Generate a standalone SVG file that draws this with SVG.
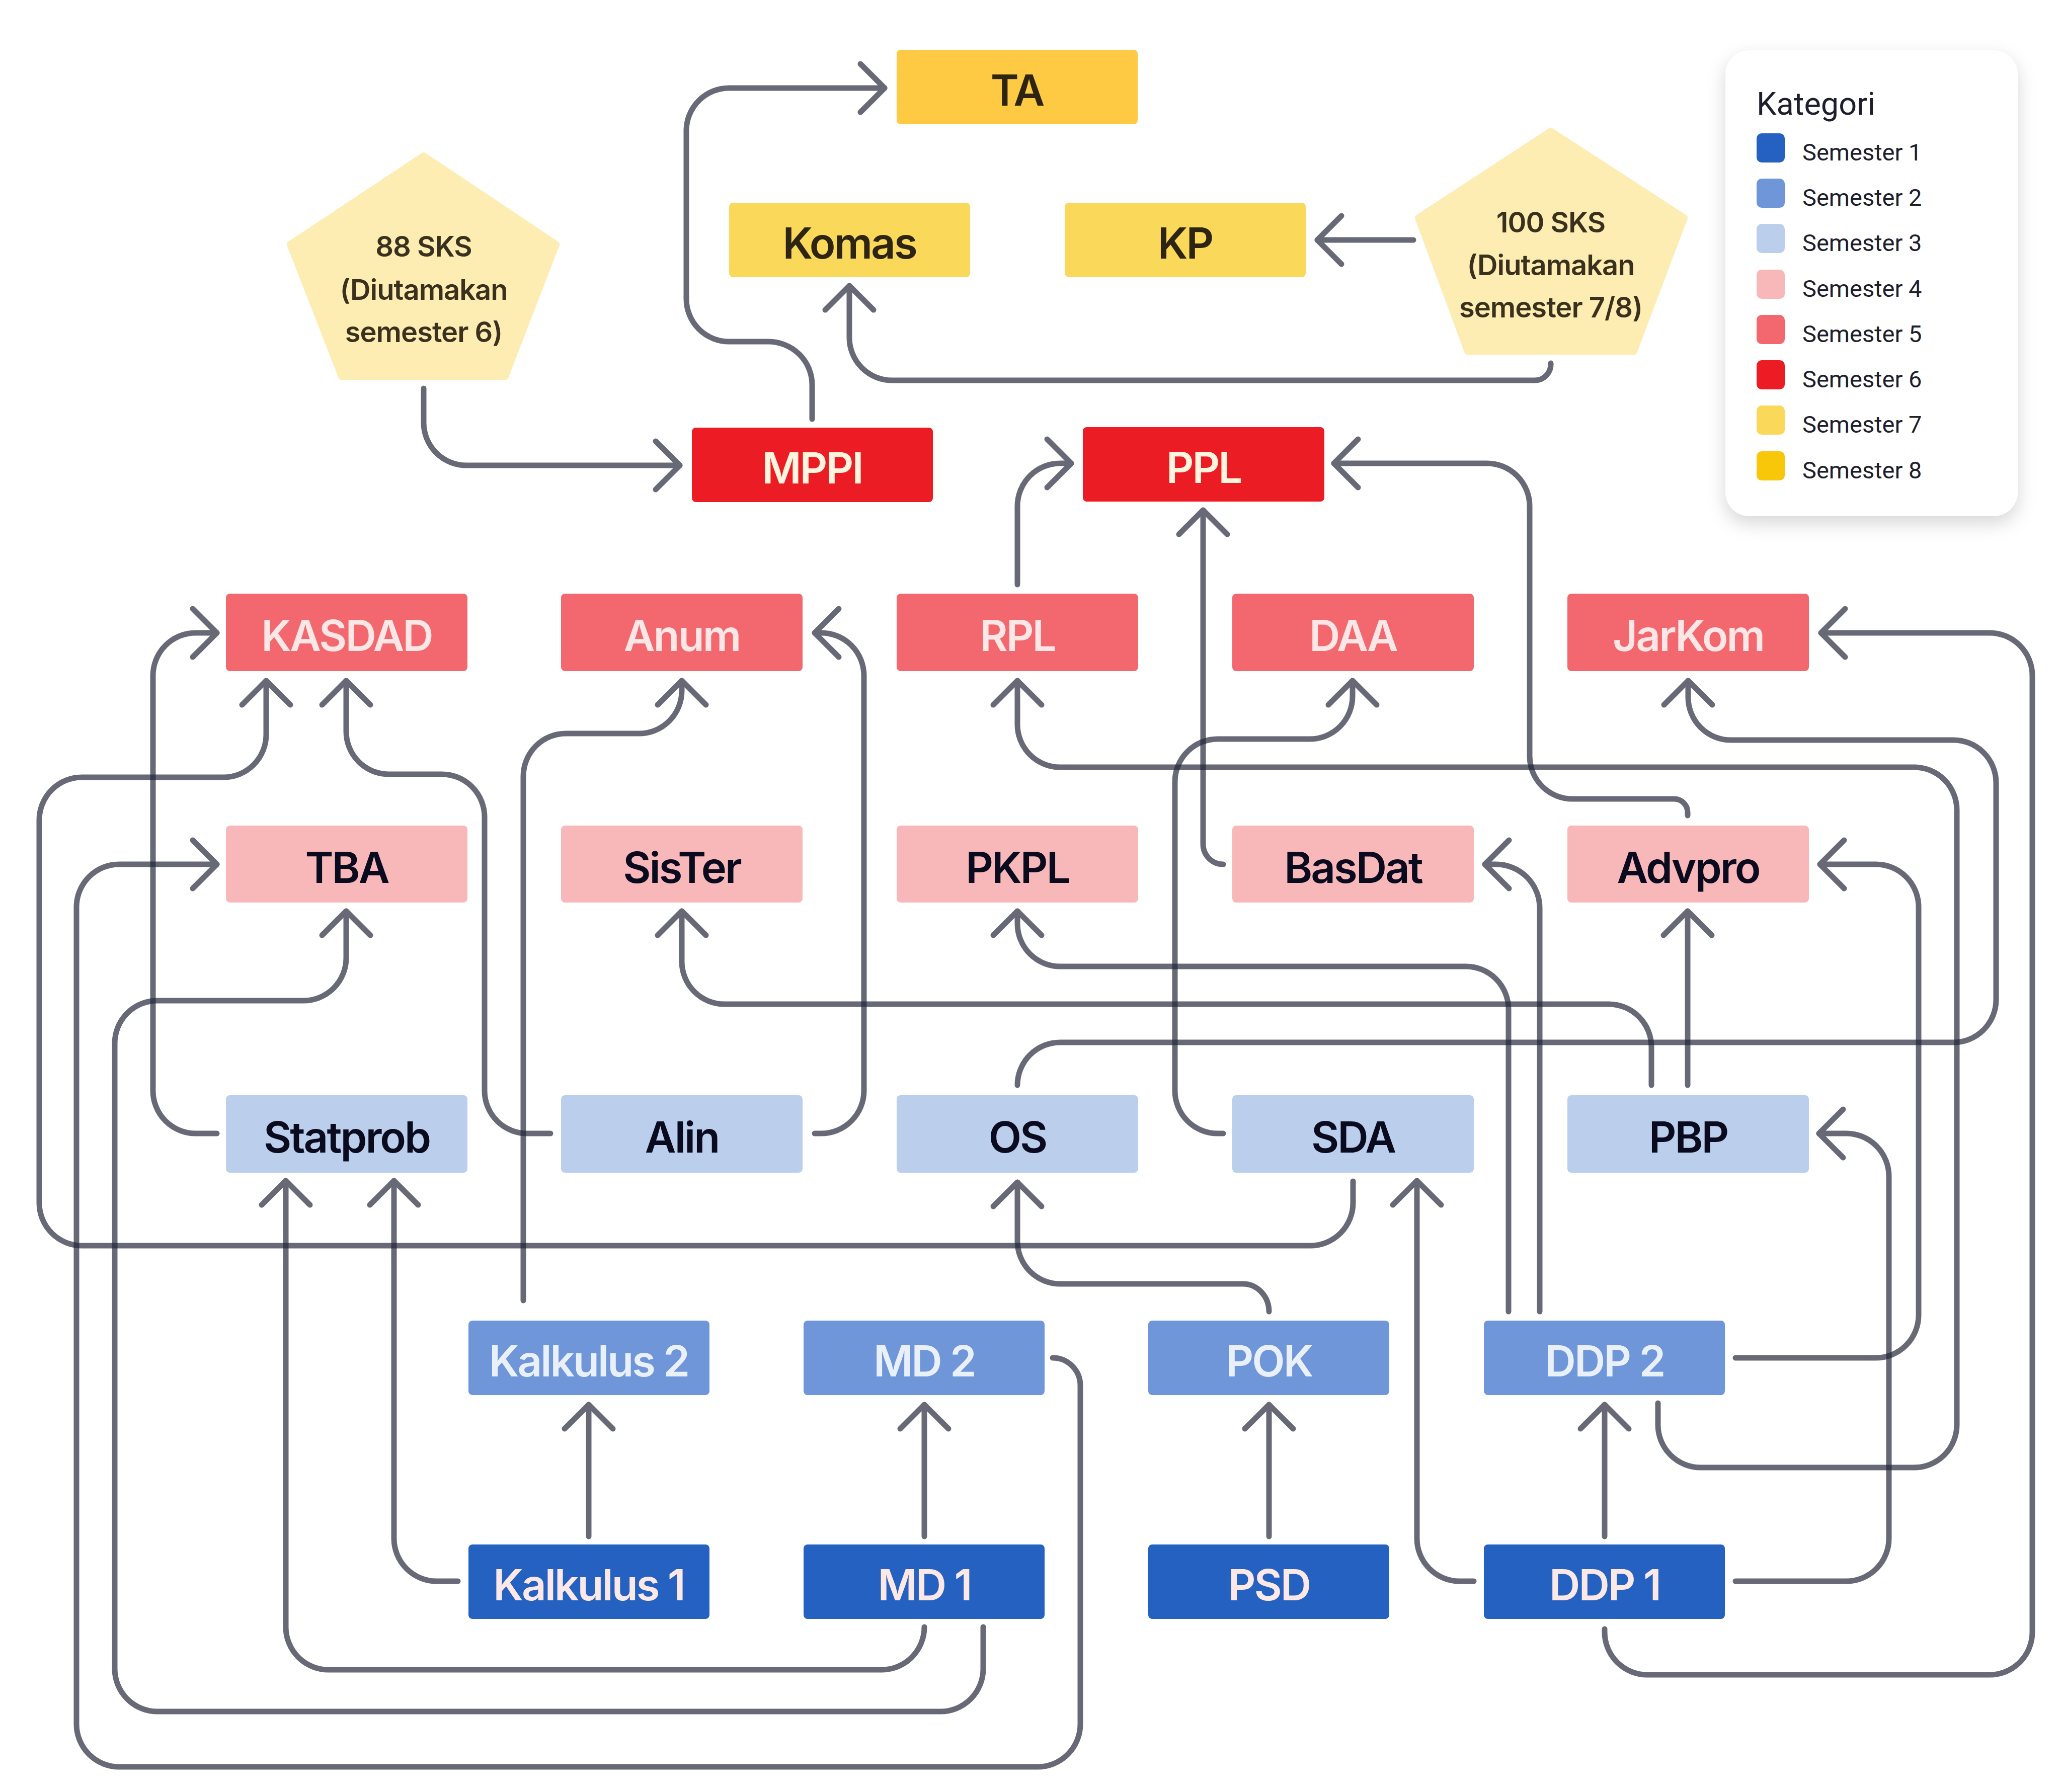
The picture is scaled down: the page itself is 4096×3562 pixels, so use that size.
<svg xmlns="http://www.w3.org/2000/svg" width="4096" height="3562" viewBox="0 0 4096 3562">
<defs>
<style>
.box{stroke:none}
.s1{fill:#2461C1}.s2{fill:#6E96D8}.s3{fill:#BBCEEC}.s4{fill:#F8B8BA}.s5{fill:#F2686E}.s6{fill:#EC1C24}.s7{fill:#FAD85A}.s8{fill:#FEC943}
.lbl{font-family:Inter,Roboto,"Liberation Sans",sans-serif;font-size:85px;font-weight:600;letter-spacing:-3px;text-anchor:middle}
.t1{fill:#FDE8E8}.t2{fill:#EAF0FA}.td{fill:#0B0B1F}.t5{fill:#FDE6E6}.t6{fill:#FFF5DF}.t7{fill:#2D2412}
.pent{fill:#FDEDB3;stroke:#FDEDB3;stroke-width:14;stroke-linejoin:round}
.ptxt{font-family:Inter,"Open Sans","Liberation Sans",sans-serif;font-size:56px;font-weight:600;letter-spacing:-1px;fill:#3A301E;text-anchor:middle}
.cn{fill:none;stroke:#202436;stroke-width:11;stroke-linecap:round;stroke-linejoin:round;opacity:0.68;marker-end:url(#ah)}
.legt{font-family:Roboto,Inter,"Liberation Sans",sans-serif;font-size:47px;font-weight:400;fill:#1E1E2C}
.legh{font-family:Roboto,Inter,"Liberation Sans",sans-serif;font-size:63px;font-weight:400;fill:#1E1E2C}
</style>
<marker id="ah" markerUnits="userSpaceOnUse" markerWidth="140" markerHeight="140" viewBox="-70 -70 140 140" refX="0" refY="0" orient="auto" overflow="visible">
<path d="M-48,-48 L0,0 L-48,48" fill="none" stroke="#202436" stroke-width="11" stroke-linecap="round" stroke-linejoin="round"/>
</marker>
<filter id="shadow" x="-20%" y="-20%" width="140%" height="140%">
<feDropShadow dx="0" dy="14" stdDeviation="18" flood-color="#000" flood-opacity="0.16"/>
</filter>
</defs>
<rect width="4096" height="3562" fill="#FFFFFF"/>

<g id="connectors">
<path class="cn" d="M842 772 V840 A85 85 0 0 0 927 925 H1351"/>
<path class="cn" d="M1614 833 V765 A87 86 0 0 0 1527 679 H1449 A85 85 0 0 1 1364 594 V260 A85 85 0 0 1 1449 175 H1758"/>
<path class="cn" d="M2809 477 H2618"/>
<path class="cn" d="M3082 722 A32 32 0 0 1 3050 756 H1773 A85 85 0 0 1 1688 671 V568"/>
<path class="cn" d="M2022 1162 V1006 A85 85 0 0 1 2107 921 H2129"/>
<path class="cn" d="M2431 1718 A40 40 0 0 1 2391 1678 V1014"/>
<path class="cn" d="M3354 1621 V1615 A27 27 0 0 0 3327 1588 H3125 A85 85 0 0 1 3040 1503 V1006 A85 85 0 0 0 2955 921 H2651"/>
<path class="cn" d="M431 2253 H389 A85 85 0 0 1 304 2168 V1343 A85 85 0 0 1 389 1258 H431"/>
<path class="cn" d="M1094 2253 H1048 A85 85 0 0 1 963 2168 V1624 A85 85 0 0 0 878 1539 H773 A85 85 0 0 1 688 1454 V1353"/>
<path class="cn" d="M2689 2348 V2391 A85 85 0 0 1 2604 2476 H163 A85 85 0 0 1 78 2391 V1630 A85 85 0 0 1 163 1545 H444 A85 85 0 0 0 529 1460 V1353"/>
<path class="cn" d="M2092 2699 A55 55 0 0 1 2147 2754 V3427 A85 85 0 0 1 2062 3512 H237 A85 85 0 0 1 152 3427 V1803 A85 85 0 0 1 237 1718 H431"/>
<path class="cn" d="M1954 3234 V3317 A85 85 0 0 1 1869 3402 H313 A85 85 0 0 1 228 3317 V2074 A85 85 0 0 1 313 1989 H603 A85 85 0 0 0 688 1904 V1811"/>
<path class="cn" d="M1837 3234 A85 85 0 0 1 1752 3319 H653 A85 85 0 0 1 568 3234 V2347"/>
<path class="cn" d="M910 3143 H868 A85 85 0 0 1 783 3058 V2347"/>
<path class="cn" d="M1040 2585 V1543 A85 85 0 0 1 1125 1458 H1270 A85 85 0 0 0 1355 1373 V1353"/>
<path class="cn" d="M1619 2253 H1632 A85 85 0 0 0 1717 2168 V1343 A85 85 0 0 0 1632 1258 H1619"/>
<path class="cn" d="M1170 3054 V2792"/>
<path class="cn" d="M1837 3054 V2792"/>
<path class="cn" d="M2522 3054 V2792"/>
<path class="cn" d="M3189 3054 V2792"/>
<path class="cn" d="M2522 2607 A52 55 0 0 0 2470 2552 H2107 A85 85 0 0 1 2022 2467 V2350"/>
<path class="cn" d="M2022 2157 A85 85 0 0 1 2107 2072 H3882 A85 85 0 0 0 3967 1987 V1556 A85 85 0 0 0 3882 1471 H3440 A85 85 0 0 1 3355 1386 V1353"/>
<path class="cn" d="M3295 2789 V2832 A85 85 0 0 0 3380 2917 H3804 A85 85 0 0 0 3889 2832 V1610 A85 85 0 0 0 3804 1525 H2107 A85 85 0 0 1 2022 1440 V1353"/>
<path class="cn" d="M3189 3238 V3244 A85 85 0 0 0 3274 3329 H3954 A85 85 0 0 0 4039 3244 V1343 A85 85 0 0 0 3954 1258 H3619"/>
<path class="cn" d="M2998 2607 V2006 A85 85 0 0 0 2913 1921 H2107 A85 85 0 0 1 2022 1836 V1811"/>
<path class="cn" d="M3060 2607 V1805 A87 87 0 0 0 2973 1718 H2951"/>
<path class="cn" d="M3282 2157 V2081 A85 85 0 0 0 3197 1996 H1440 A85 85 0 0 1 1355 1911 V1811"/>
<path class="cn" d="M3354 2157 V1811"/>
<path class="cn" d="M3449 2699 H3728 A85 85 0 0 0 3813 2614 V1803 A85 85 0 0 0 3728 1718 H3617"/>
<path class="cn" d="M3449 3143 H3669 A85 85 0 0 0 3754 3058 V2338 A85 85 0 0 0 3669 2253 H3615"/>
<path class="cn" d="M2929 3143 H2901 A85 85 0 0 1 2816 3058 V2347"/>
<path class="cn" d="M2431 2253 H2420 A85 85 0 0 1 2335 2168 V1554 A85 85 0 0 1 2420 1469 H2603 A85 85 0 0 0 2688 1384 V1353"/>
</g>

<g id="p88">
<polygon class="pent" points="842,310 1105,486 1004,748 679,748 577,486"/>
<text class="ptxt" x="842" y="510">88 SKS</text>
<text class="ptxt" x="842" y="596">(Diutamakan</text>
<text class="ptxt" x="842" y="680">semester 6)</text>
</g>
<g id="p100">
<polygon class="pent" points="3082,261 3347,433 3247,698 2917,698 2819,433"/>
<text class="ptxt" x="3082" y="462">100 SKS</text>
<text class="ptxt" x="3082" y="547">(Diutamakan</text>
<text class="ptxt" x="3082" y="631">semester 7/8)</text>
</g>

<g id="n-TA"><rect class="box s8" x="1782" y="99" width="479" height="148" rx="8"/><text class="lbl t7" x="2021" y="210">TA</text></g>
<g id="n-Komas"><rect class="box s7" x="1449" y="403" width="479" height="148" rx="8"/><text class="lbl t7" x="1688" y="514">Komas</text></g>
<g id="n-KP"><rect class="box s7" x="2116" y="403" width="479" height="148" rx="8"/><text class="lbl t7" x="2355" y="514">KP</text></g>
<g id="n-MPPI"><rect class="box s6" x="1375" y="850" width="479" height="148" rx="8"/><text class="lbl t6" x="1614" y="961">MPPI</text></g>
<g id="n-PPL"><rect class="box s6" x="2152" y="849" width="480" height="148" rx="8"/><text class="lbl t6" x="2392" y="960">PPL</text></g>

<g id="n-KASDAD"><rect class="box s5" x="449" y="1180" width="480" height="154" rx="8"/><text class="lbl t5" x="689" y="1294">KASDAD</text></g>
<g id="n-Anum"><rect class="box s5" x="1115" y="1180" width="480" height="154" rx="8"/><text class="lbl t5" x="1355" y="1294">Anum</text></g>
<g id="n-RPL"><rect class="box s5" x="1782" y="1180" width="480" height="154" rx="8"/><text class="lbl t5" x="2022" y="1294">RPL</text></g>
<g id="n-DAA"><rect class="box s5" x="2449" y="1180" width="480" height="154" rx="8"/><text class="lbl t5" x="2689" y="1294">DAA</text></g>
<g id="n-JarKom"><rect class="box s5" x="3115" y="1180" width="480" height="154" rx="8"/><text class="lbl t5" x="3355" y="1294">JarKom</text></g>

<g id="n-TBA"><rect class="box s4" x="449" y="1641" width="480" height="153" rx="8"/><text class="lbl td" x="689" y="1755">TBA</text></g>
<g id="n-SisTer"><rect class="box s4" x="1115" y="1641" width="480" height="153" rx="8"/><text class="lbl td" x="1355" y="1755">SisTer</text></g>
<g id="n-PKPL"><rect class="box s4" x="1782" y="1641" width="480" height="153" rx="8"/><text class="lbl td" x="2022" y="1755">PKPL</text></g>
<g id="n-BasDat"><rect class="box s4" x="2449" y="1641" width="480" height="153" rx="8"/><text class="lbl td" x="2689" y="1755">BasDat</text></g>
<g id="n-Advpro"><rect class="box s4" x="3115" y="1641" width="480" height="153" rx="8"/><text class="lbl td" x="3355" y="1755">Advpro</text></g>

<g id="n-Statprob"><rect class="box s3" x="449" y="2177" width="480" height="154" rx="8"/><text class="lbl td" x="689" y="2291">Statprob</text></g>
<g id="n-Alin"><rect class="box s3" x="1115" y="2177" width="480" height="154" rx="8"/><text class="lbl td" x="1355" y="2291">Alin</text></g>
<g id="n-OS"><rect class="box s3" x="1782" y="2177" width="480" height="154" rx="8"/><text class="lbl td" x="2022" y="2291">OS</text></g>
<g id="n-SDA"><rect class="box s3" x="2449" y="2177" width="480" height="154" rx="8"/><text class="lbl td" x="2689" y="2291">SDA</text></g>
<g id="n-PBP"><rect class="box s3" x="3115" y="2177" width="480" height="154" rx="8"/><text class="lbl td" x="3355" y="2291">PBP</text></g>

<g id="n-Kalkulus2"><rect class="box s2" x="931" y="2625" width="479" height="148" rx="8"/><text class="lbl t2" x="1170" y="2736">Kalkulus 2</text></g>
<g id="n-MD2"><rect class="box s2" x="1597" y="2625" width="479" height="148" rx="8"/><text class="lbl t2" x="1837" y="2736">MD 2</text></g>
<g id="n-POK"><rect class="box s2" x="2282" y="2625" width="479" height="148" rx="8"/><text class="lbl t2" x="2522" y="2736">POK</text></g>
<g id="n-DDP2"><rect class="box s2" x="2949" y="2625" width="479" height="148" rx="8"/><text class="lbl t2" x="3189" y="2736">DDP 2</text></g>

<g id="n-Kalkulus1"><rect class="box s1" x="931" y="3070" width="479" height="148" rx="8"/><text class="lbl t1" x="1170" y="3181">Kalkulus 1</text></g>
<g id="n-MD1"><rect class="box s1" x="1597" y="3070" width="479" height="148" rx="8"/><text class="lbl t1" x="1837" y="3181">MD 1</text></g>
<g id="n-PSD"><rect class="box s1" x="2282" y="3070" width="479" height="148" rx="8"/><text class="lbl t1" x="2522" y="3181">PSD</text></g>
<g id="n-DDP1"><rect class="box s1" x="2949" y="3070" width="479" height="148" rx="8"/><text class="lbl t1" x="3189" y="3181">DDP 1</text></g>

<g id="legend">
<rect x="3429" y="100" width="581" height="926" rx="48" fill="#FFFFFF" filter="url(#shadow)"/>
<text class="legh" x="3491" y="228">Kategori</text>
<rect class="s1" x="3491" y="265" width="56" height="58" rx="10"/><text class="legt" x="3582" y="319">Semester 1</text>
<rect class="s2" x="3491" y="355" width="56" height="58" rx="10"/><text class="legt" x="3582" y="409">Semester 2</text>
<rect class="s3" x="3491" y="445" width="56" height="58" rx="10"/><text class="legt" x="3582" y="499">Semester 3</text>
<rect class="s4" x="3491" y="536" width="56" height="58" rx="10"/><text class="legt" x="3582" y="590">Semester 4</text>
<rect class="s5" x="3491" y="626" width="56" height="58" rx="10"/><text class="legt" x="3582" y="680">Semester 5</text>
<rect class="s6" x="3491" y="716" width="56" height="58" rx="10"/><text class="legt" x="3582" y="770">Semester 6</text>
<rect class="s7" x="3491" y="806" width="56" height="58" rx="10"/><text class="legt" x="3582" y="860">Semester 7</text>
<rect x="3491" y="897" width="56" height="58" rx="10" fill="#F9C70A"/><text class="legt" x="3582" y="951">Semester 8</text>
</g>
</svg>
